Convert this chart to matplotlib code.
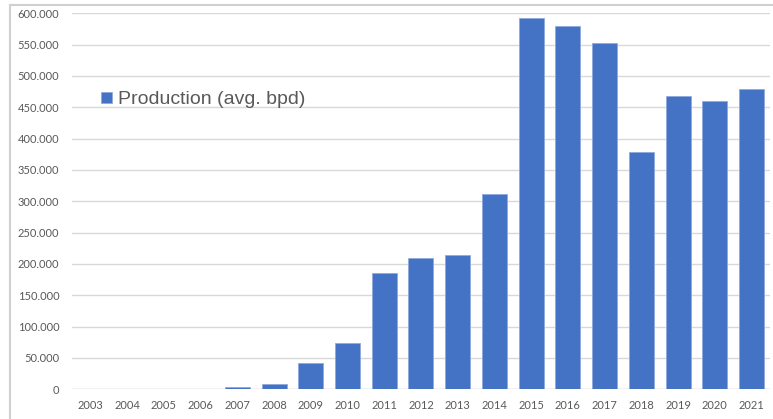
import numpy as np
import matplotlib.pyplot as plt
from matplotlib.lines import Line2D
from matplotlib.ticker import FuncFormatter

years = [str(y) for y in range(2003, 2022)]
production = [0, 0, 0, 0, 3700, 8000, 42500, 74000, 185500, 209000,
              214300, 311600, 592000, 580200, 552100, 378700, 467500,
              459600, 479700]
series_name = "Production (avg. bpd)"

bar_color = "#4472C4"
grid_color = "#d9d9d9"
text_color = "#595959"


def thousands_dot(v, pos):
    # european style thousand separator
    return "{:,.0f}".format(v).replace(",", ".")


fig = plt.figure(figsize=(7.73, 4.19), dpi=100)
ax = fig.add_axes([0.0931, 0.0709, 0.903, 0.8973])

x = np.arange(len(years))
bars = ax.bar(x, production, width=0.68, color=bar_color,
              edgecolor="#8faadc", linewidth=0.6, label=series_name, zorder=3)

ax.set_xlim(-0.5, len(years) - 0.5)
ax.set_ylim(0, 600000)
ax.set_yticks(np.arange(0, 600001, 50000))
ax.yaxis.set_major_formatter(FuncFormatter(thousands_dot))
ax.set_xticks(x)
ax.set_xticklabels(years)

ax.grid(axis="y", color=grid_color, linewidth=1.0, zorder=0)
for s in ax.spines.values():
    s.set_visible(False)
ax.axhline(0, color=grid_color, linewidth=1.0, zorder=2)
ax.tick_params(axis="both", length=0, colors=text_color, labelsize=8)
ax.tick_params(axis="y", pad=9)
ax.tick_params(axis="x", pad=8)
for lab in ax.get_xticklabels() + ax.get_yticklabels():
    lab.set_fontfamily("Lato")

leg = ax.legend(handles=[bars], loc="center left",
                bbox_to_anchor=(0.017, 0.77), frameon=False,
                handlelength=0.55, handleheight=0.55, handletextpad=0.3,
                prop={"family": "Liberation Sans", "size": 14})
for t in leg.get_texts():
    t.set_color(text_color)

# outer chart border (top and left edges)
fig.add_artist(Line2D([10 / 773, 1], [1 - 5 / 419, 1 - 5 / 419],
                      transform=fig.transFigure, color="#d0d0d0", linewidth=1.5))
fig.add_artist(Line2D([10 / 773, 10 / 773], [0, 1 - 5 / 419],
                      transform=fig.transFigure, color="#d0d0d0", linewidth=1.5))

plt.savefig("out.png", dpi=100)
plt.close()
